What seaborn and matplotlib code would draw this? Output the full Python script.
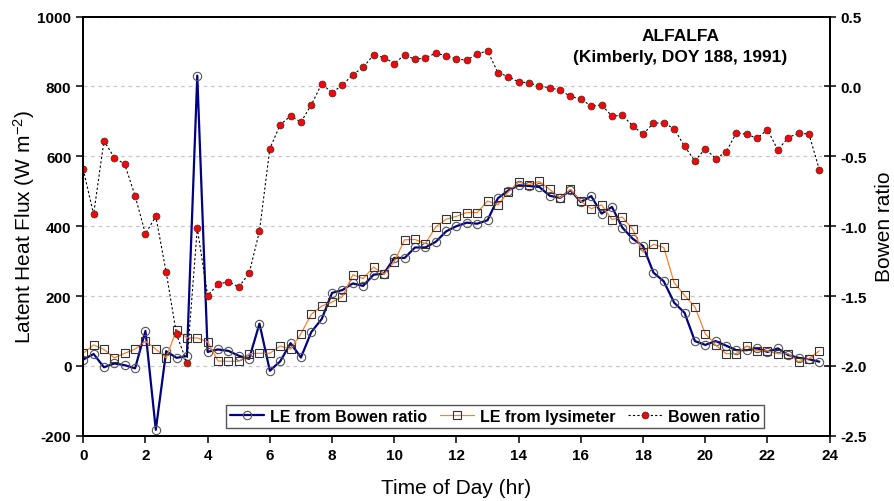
import numpy as np
import pandas as pd
import matplotlib
matplotlib.use("Agg")
import matplotlib.pyplot as plt
import seaborn as sns
from matplotlib.ticker import FormatStrFormatter

# 20-min readings, 0:00 to 23:40
time_hr = np.arange(72) * 20 / 60

le_bowen = [18, 34, -4, 7, 2, -7, 100, -183, 42, 23, 28, 831, 40, 47, 43, 29,
            20, 121, -14, 13, 65, 24, 97, 134, 209, 217, 236, 229, 261, 264,
            309, 309, 339, 339, 355, 385, 400, 410, 407, 417, 480, 502, 517,
            515, 512, 487, 481, 503, 469, 486, 436, 455, 396, 364, 343, 267,
            242, 181, 152, 71, 60, 71, 58, 45, 45, 50, 40, 50, 31, 23, 19, 12]

le_lysimeter = [36, 60, 47, 23, 36, 48, 71, 48, 23, 104, 80, 80, 69, 14, 13, 13,
                35, 36, 36, 57, 48, 92, 148, 171, 183, 198, 261, 250, 283, 262,
                298, 361, 362, 350, 398, 420, 428, 439, 439, 472, 461, 498, 526,
                519, 528, 505, 481, 505, 471, 450, 461, 419, 426, 391, 326, 348,
                339, 238, 202, 169, 92, 60, 35, 35, 57, 43, 43, 35, 35, 12, 21, 43]

bowen_ratio = [-0.593, -0.916, -0.39, -0.509, -0.557, -0.783, -1.055, -0.93,
               -1.33, -1.774, -1.976, -1.016, -1.497, -1.416, -1.397, -1.435,
               -1.338, -1.035, -0.445, -0.274, -0.212, -0.255, -0.132, 0.018,
               -0.045, 0.01, 0.084, 0.136, 0.226, 0.207, 0.164, 0.226, 0.193,
               0.205, 0.238, 0.219, 0.196, 0.189, 0.231, 0.255, 0.098, 0.071,
               0.031, 0.026, 0.0, -0.008, -0.028, -0.071, -0.09, -0.14, -0.133,
               -0.212, -0.207, -0.281, -0.343, -0.262, -0.262, -0.302, -0.428,
               -0.533, -0.445, -0.516, -0.471, -0.331, -0.343, -0.371, -0.309,
               -0.455, -0.366, -0.335, -0.34, -0.595]

series_labels = ["LE from Bowen ratio", "LE from lysimeter", "Bowen ratio"]

df = pd.DataFrame({
    "time": time_hr,
    "le_bowen": le_bowen,
    "le_lys": le_lysimeter,
    "bowen": bowen_ratio,
})

sns.set_style("ticks")
plt.rcParams["font.family"] = ["Liberation Sans", "DejaVu Sans"]
plt.rcParams["axes.unicode_minus"] = False
plt.rcParams["mathtext.default"] = "regular"
for key in ("text.color", "axes.labelcolor", "xtick.color", "ytick.color"):
    plt.rcParams[key] = "black"

fig, ax = plt.subplots(figsize=(8.95, 5.02), dpi=100)
fig.subplots_adjust(left=0.093, right=0.927, bottom=0.13, top=0.965)
ax2 = ax.twinx()

sns.lineplot(data=df, x="time", y="le_bowen", ax=ax, color="#000080", lw=1.6,
             marker="o", ms=6, mfc="none", mec="#555555", mew=0.8, legend=False)
sns.lineplot(data=df, x="time", y="le_lys", ax=ax, color="#ff8033", lw=0.9,
             marker="s", ms=5.5, mfc="none", mec="#333333", mew=0.8, legend=False)
sns.lineplot(data=df, x="time", y="bowen", ax=ax2, color="black", lw=0.8,
             ls=(0, (2, 2)), marker="o", ms=5, mfc="red", mec="#333333",
             mew=0.5, legend=False)

ax.set_xlim(0, 24)
ax.set_ylim(-200, 1000)
ax2.set_ylim(-2.5, 0.5)
ax.set_xticks(range(0, 25, 2))
ax.set_yticks(range(-200, 1001, 200))
ax2.set_yticks(np.arange(-2.5, 0.51, 0.5))
ax2.yaxis.set_major_formatter(FormatStrFormatter("%.1f"))

ax.yaxis.grid(True, ls=(0, (3, 3)), color="#c8c8c8", lw=0.9)
ax.xaxis.grid(False)

for a in (ax, ax2):
    for sp in a.spines.values():
        sp.set_color("black")
        sp.set_linewidth(1.4)
    for lab in a.get_xticklabels() + a.get_yticklabels():
        lab.set_fontweight("bold")
        lab.set_fontsize(11)
ax.tick_params(axis="both", direction="out", length=5, width=1.1, color="black")
ax2.tick_params(axis="y", direction="inout", length=8, width=1.1, color="black")

ax.set_xlabel("Time of Day (hr)", fontsize=15, labelpad=12)
ax.set_ylabel("Latent Heat Flux (W m$^{-2}$)", fontsize=15, labelpad=0)
ax2.set_ylabel("Bowen ratio", fontsize=15, labelpad=6)

ax.text(0.80, 0.972, "ALFALFA\n(Kimberly, DOY 188, 1991)", transform=ax.transAxes,
        ha="center", va="top", fontsize=12.5, fontweight="bold", linespacing=1.45)

handles = ax.get_lines()[:2] + ax2.get_lines()[:1]
leg = ax2.legend(handles, series_labels, loc="center", bbox_to_anchor=(0.552, 0.046),
                 ncol=3, frameon=True, fancybox=False, framealpha=1,
                 edgecolor="#555555", prop={"weight": "bold", "size": 11.5},
                 handlelength=2.1, handletextpad=0.4, columnspacing=0.8,
                 borderpad=0.25)
leg.get_frame().set_linewidth(1.0)

fig.savefig("out.png", dpi=100)
